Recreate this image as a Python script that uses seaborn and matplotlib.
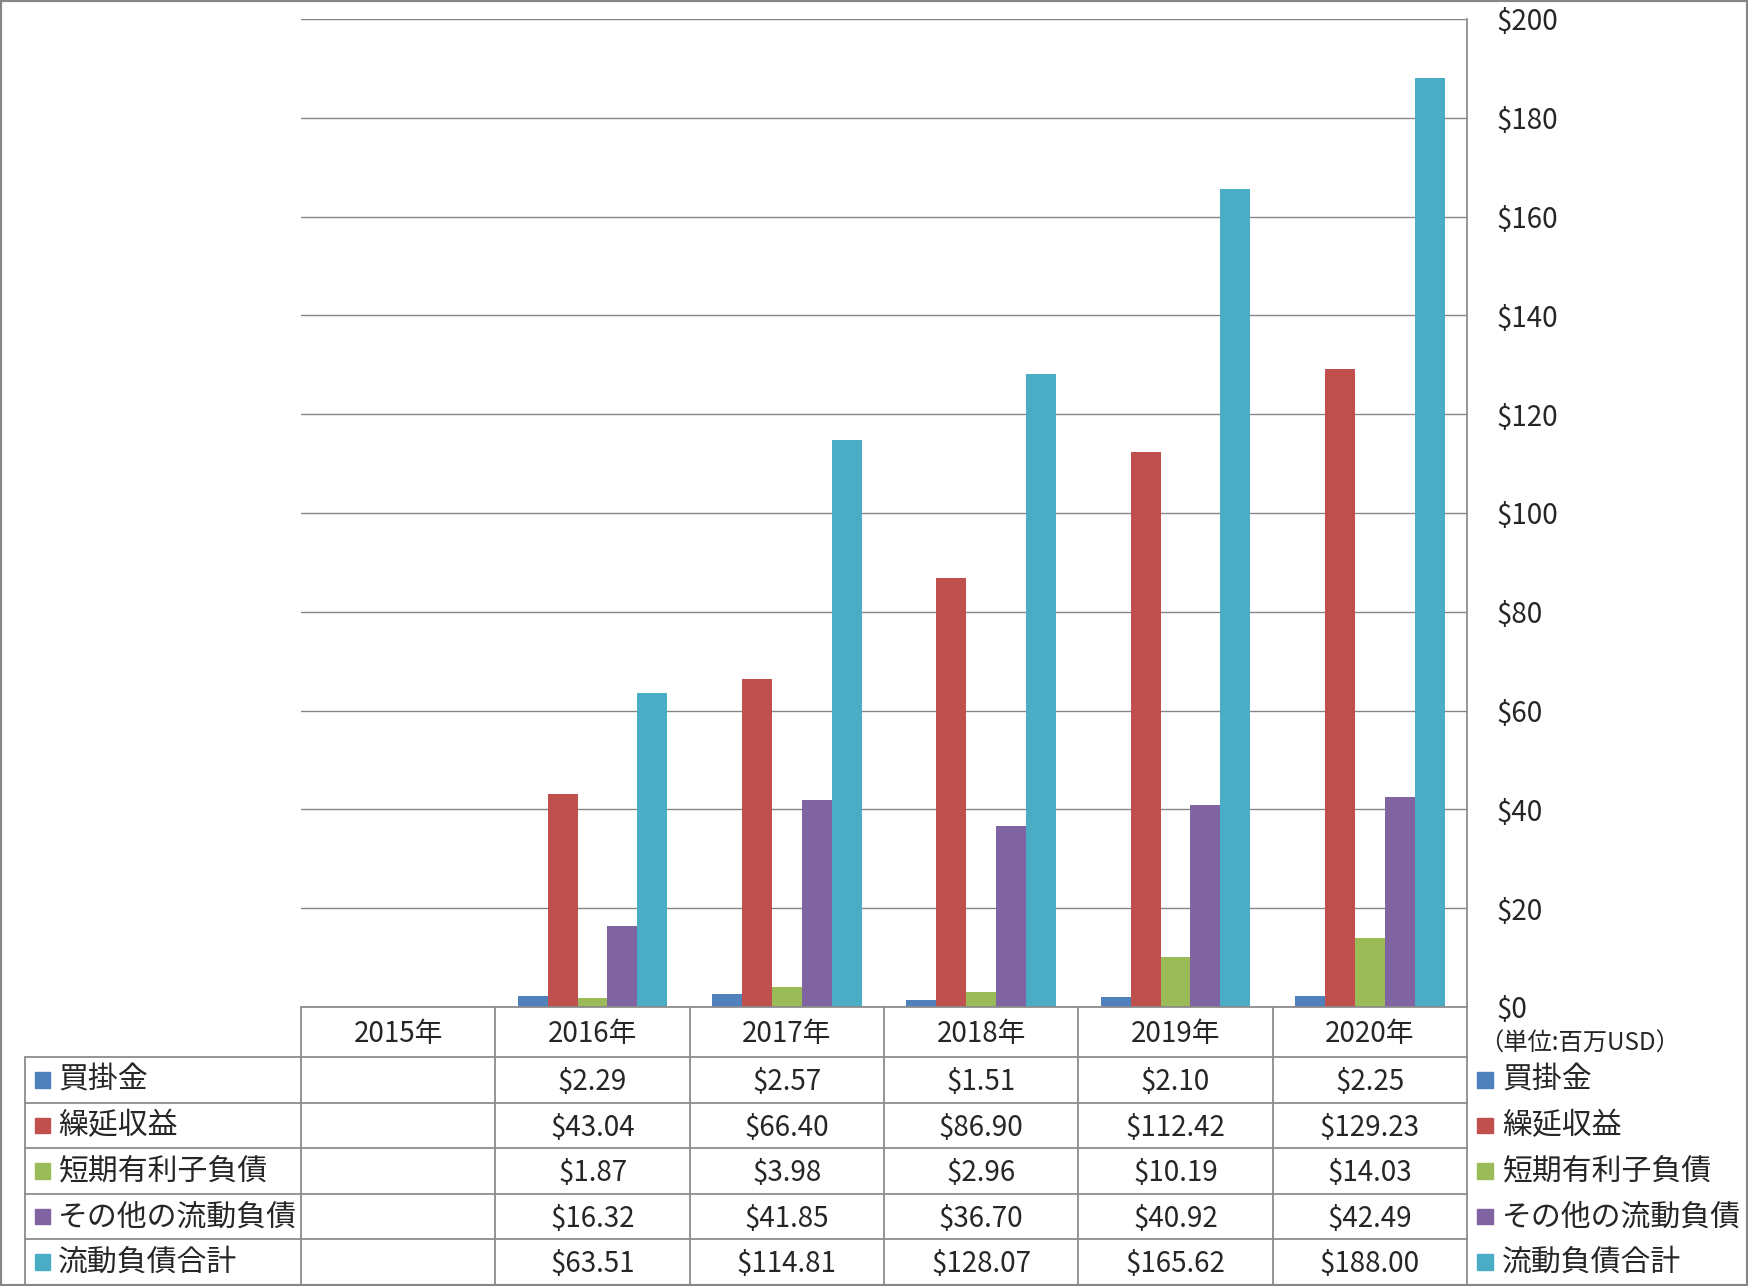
import numpy as np
import pandas as pd
import matplotlib
matplotlib.use('Agg')
import matplotlib.pyplot as plt
import seaborn as sns
from matplotlib.patches import Rectangle
from matplotlib.ticker import FuncFormatter

years = ['2015年', '2016年', '2017年', '2018年', '2019年', '2020年']
series_names = ['買掛金', '繰延収益', '短期有利子負債', 'その他の流動負債', '流動負債合計']
accounts_payable = [np.nan, 2.29, 2.57, 1.51, 2.10, 2.25]
deferred_revenue = [np.nan, 43.04, 66.40, 86.90, 112.42, 129.23]
short_term_debt = [np.nan, 1.87, 3.98, 2.96, 10.19, 14.03]
other_current = [np.nan, 16.32, 41.85, 36.70, 40.92, 42.49]
total_current = [np.nan, 63.51, 114.81, 128.07, 165.62, 188.00]
colors = ['#4F81BD', '#C0504D', '#9BBB59', '#8064A2', '#4BACC6']

series_values = [accounts_payable, deferred_revenue, short_term_debt, other_current, total_current]

rows = []
for name, vals in zip(series_names, series_values):
    for year, v in zip(years, vals):
        rows.append({'year': year, 'series': name, 'value': v})
df = pd.DataFrame(rows)

sns.set_style('white')
plt.rcParams['font.family'] = ['Noto Sans CJK JP', 'DejaVu Sans']

W, H = 1748, 1286
fig = plt.figure(figsize=(W / 100, H / 100), dpi=100)

# pixel layout
plot_l, plot_r, plot_t, plot_b = 301, 1467, 19, 1007
tab_l, tab_b = 25, 1285
cat_w = (plot_r - plot_l) / len(years)

ax = fig.add_axes([plot_l / W, 1 - plot_b / H, (plot_r - plot_l) / W, (plot_b - plot_t) / H])
sns.barplot(data=df.dropna(), x='year', y='value', hue='series', order=years,
            hue_order=series_names, palette=colors, width=0.77, saturation=1,
            errorbar=None, legend=False, ax=ax, linewidth=0)
ax.set_xlim(-0.5, len(years) - 0.5)
ax.set_ylim(0, 200)
ax.set_yticks(range(0, 201, 20))
ax.yaxis.tick_right()
ax.yaxis.set_major_formatter(FuncFormatter(lambda v, p: f'${v:.0f}'))
ax.tick_params(axis='y', length=0, pad=21, labelsize=20)
ax.set_xticks([])
ax.set_xlabel('')
ax.set_ylabel('')
ax.yaxis.grid(True, color='#868686', linewidth=1)
ax.set_axisbelow(True)
for s in ['left', 'top', 'bottom']:
    ax.spines[s].set_visible(False)
ax.spines['right'].set_color('#868686')
ax.spines['right'].set_linewidth(1.2)

# data table below the chart
label_w = (plot_l - tab_l) / cat_w
header_h = 50 / 45.5
tab_h = header_h + len(series_names)
tax = fig.add_axes([tab_l / W, 1 - tab_b / H, (plot_r - tab_l) / W, (tab_b - plot_b) / H])
tax.set_xlim(-0.5 - label_w, len(years) - 0.5)
tax.set_ylim(tab_h, 0)
tax.axis('off')
line_kw = dict(color='#8C8C8C', linewidth=1.3, clip_on=False)
left_edge = -0.5 - label_w
right_edge = len(years) - 0.5
tax.plot([-0.5, right_edge], [0, 0], **line_kw)
for i in range(len(series_names) + 1):
    y = header_h + i
    tax.plot([left_edge, right_edge], [y, y], **line_kw)
tax.plot([left_edge, left_edge], [header_h, tab_h], **line_kw)
for j in range(len(years) + 1):
    x = j - 0.5
    tax.plot([x, x], [0, tab_h], **line_kw)

for j, year in enumerate(years):
    tax.text(j, header_h / 2 + 0.05, year, ha='center', va='center', fontsize=20)

for i, (name, vals, c) in enumerate(zip(series_names, series_values, colors)):
    yc = header_h + i + 0.5
    tax.add_patch(Rectangle((left_edge + 10 / cat_w, yc - 0.17), 15 / cat_w, 0.34,
                            color=c, clip_on=False))
    tax.text(left_edge + 33 / cat_w, yc, name, ha='left', va='center', fontsize=21.5)
    for j, v in enumerate(vals):
        if not np.isnan(v):
            tax.text(j, yc + 0.05, f'${v:.2f}', ha='center', va='center', fontsize=20)
    # legend on the right
    tax.add_patch(Rectangle((right_edge + 10 / cat_w, yc - 0.17), 16 / cat_w, 0.34,
                            color=c, clip_on=False))
    tax.text(right_edge + 35 / cat_w, yc, name, ha='left', va='center', fontsize=21.5,
             clip_on=False)

tax.text(right_edge + 12 / cat_w, 0.8, '（単位:百万USD）', ha='left', va='center',
         fontsize=17.5, clip_on=False)

fig.patches.append(Rectangle((0, 0), 1, 1, transform=fig.transFigure, fill=False,
                             edgecolor='#868686', linewidth=3))

fig.savefig('out.png', dpi=100)
